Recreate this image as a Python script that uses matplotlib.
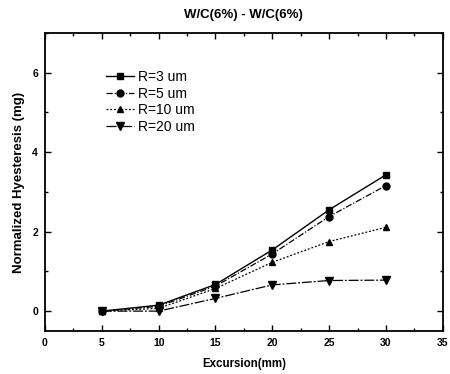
import numpy as np
import matplotlib
matplotlib.use("Agg")
import matplotlib.pyplot as plt
from matplotlib.ticker import MultipleLocator

plt.rcParams["font.family"] = ["Liberation Sans", "DejaVu Sans"]

excursion = [5, 10, 15, 20, 25, 30]
r3 = [0.0, 0.15, 0.67, 1.54, 2.55, 3.43]
r5 = [0.0, 0.12, 0.63, 1.44, 2.38, 3.16]
r10 = [0.0, 0.07, 0.57, 1.23, 1.75, 2.11]
r20 = [0.0, 0.0, 0.32, 0.66, 0.77, 0.78]
labels = ["R=3 um", "R=5 um", "R=10 um", "R=20 um"]

fig = plt.figure(figsize=(4.5, 3.74), dpi=100)
ax = fig.add_axes([0.1, 0.115, 0.884, 0.797])

ax.plot(excursion, r3, "k-", marker="s", ms=5, lw=1.0, label=labels[0])
ax.plot(excursion, r5, "k", ls=(0, (5, 1.5, 1, 1.5)), marker="o", ms=5, lw=0.9, label=labels[1])
ax.plot(excursion, r10, "k", ls=(0, (1.5, 1.5)), marker="^", ms=5, lw=0.9, label=labels[2])
ax.plot(excursion, r20, "k", ls=(0, (8, 1.5, 1.5, 1.5)), marker="v", ms=6, lw=0.9, label=labels[3])

ax.set_xlim(0, 35)
ax.set_ylim(-0.5, 7)
ax.xaxis.set_major_locator(MultipleLocator(5))
ax.xaxis.set_minor_locator(MultipleLocator(2.5))
ax.yaxis.set_major_locator(MultipleLocator(2))
ax.yaxis.set_minor_locator(MultipleLocator(1))
ax.tick_params(which="both", direction="in", top=True, right=True, width=1.0)
ax.tick_params(which="major", length=4, labelsize=7.5, pad=5)
ax.tick_params(which="minor", length=2.5)
for lab in ax.get_xticklabels() + ax.get_yticklabels():
    lab.set_fontweight("bold")
for s in ax.spines.values():
    s.set_linewidth(1.3)

ax.set_xlabel("Excursion(mm)", fontsize=8.3, fontweight="bold", labelpad=7)
ax.set_ylabel("Normalized Hyesteresis (mg)", fontsize=9.5, fontweight="bold", labelpad=5)
ax.set_title("W/C(6%) - W/C(6%)", fontsize=9.5, fontweight="bold", pad=11)

ax.legend(loc="upper left", bbox_to_anchor=(0.14, 0.895), frameon=False, fontsize=10,
          handlelength=2.0, handletextpad=0.3, labelspacing=0.2, borderaxespad=0)

fig.savefig("out.png", dpi=100)
